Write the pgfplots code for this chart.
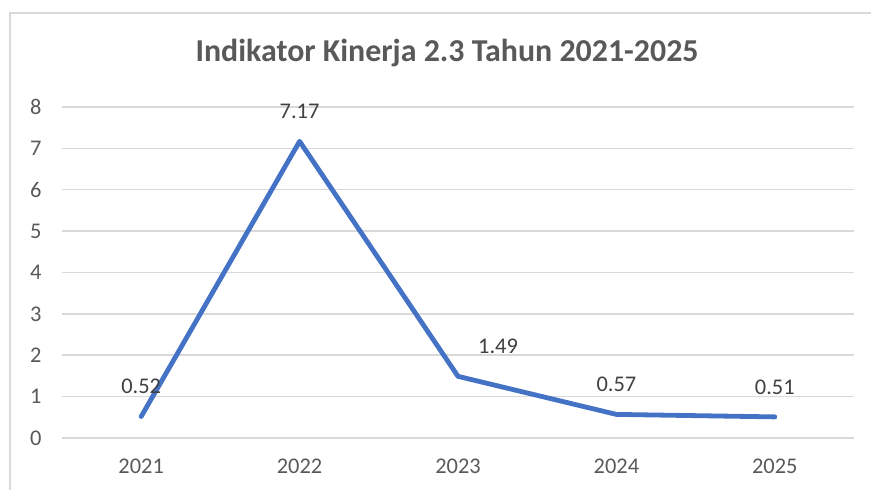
\documentclass[border=0pt]{standalone}
\usepackage{pgfplots}
\pgfplotsset{compat=1.18}
\usepackage{fontspec}
\setmainfont{Carlito}
\definecolor{txt}{HTML}{595959}
\definecolor{lbl}{HTML}{404040}
\definecolor{gridc}{HTML}{D9D9D9}
\definecolor{blu}{HTML}{4472C4}
\begin{document}
\begin{tikzpicture}[x=1bp,y=1bp]
\useasboundingbox (0,0) rectangle (871,490);
\draw[gridc, line width=1.5bp] (10,-20) -- (10,477) -- (890,477);
\node[txt, font=\fontsize{32}{36}\selectfont\bfseries] at (447,437) {Indikator Kinerja 2.3 Tahun 2021-2025};
\begin{axis}[
  at={(62bp,52bp)}, anchor=south west,
  scale only axis, width=792bp, height=331bp,
  xmin=-0.5, xmax=4.5, ymin=0, ymax=8,
  xtick={0,1,2,3,4}, xticklabels={2021,2022,2023,2024,2025},
  ytick={0,1,2,3,4,5,6,7,8},
  axis line style={draw=none},
  major tick length=0pt,
  ymajorgrids, xmajorgrids=false, grid style={gridc, line width=1.5bp},
  tick label style={txt, font=\fontsize{22.5}{26}\selectfont},
  /pgf/number format/assume math mode=true,
  yticklabel style={xshift=-17bp},
  xticklabel style={yshift=-17bp},
  clip=false,
  point meta=explicit symbolic,
]
\addplot[blu, line width=4.8bp, line cap=round, line join=round, mark=none]
  coordinates {(0,0.52) (1,7.17) (2,1.49) (3,0.57) (4,0.51)};
\addplot[draw=none, mark=none, nodes near coords,
  nodes near coords style={lbl, font=\fontsize{22.5}{26}\selectfont, yshift=19bp}]
  coordinates {(0,0.52)[0.52] (1,7.17)[7.17] (3,0.57)[0.57] (4,0.51)[0.51]};
\addplot[draw=none, mark=none, nodes near coords,
  nodes near coords style={lbl, font=\fontsize{22.5}{26}\selectfont, yshift=19bp, xshift=40bp}]
  coordinates {(2,1.49)[1.49]};
\end{axis}
\end{tikzpicture}
\end{document}
